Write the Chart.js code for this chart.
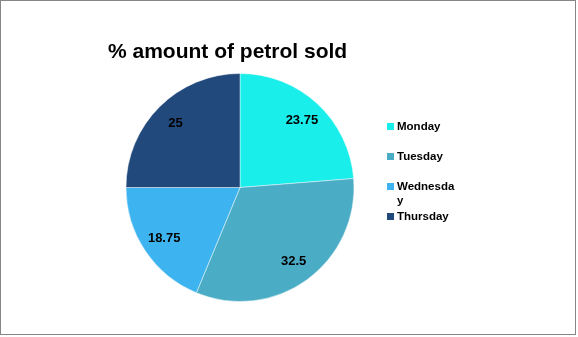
<!DOCTYPE html>
<html>
<head>
<meta charset="utf-8">
<script src="https://cdn.jsdelivr.net/npm/chart.js@4"></script>
<style>
  html, body { margin: 0; padding: 0; background: #fff; }
  #box {
    position: absolute; left: 0; top: 0;
    width: 574px; height: 333px;
    border: 1px solid #868686;
    background: #fff;
  }
</style>
</head>
<body>
<div id="box"><canvas id="petrol" width="574" height="333"></canvas></div>
<script>
const days = ['Monday', 'Tuesday', 'Wednesday', 'Thursday'];
const percentSold = [23.75, 32.5, 18.75, 25];
const sliceColors = ['#1AEEEA', '#4BACC6', '#3DB4F0', '#21497C'];
const chartTitle = '% amount of petrol sold';

// labels inside each slice, a bit out from the middle
const sliceLabels = {
  id: 'sliceLabels',
  afterDatasetsDraw(chart) {
    const ctx = chart.ctx;
    const meta = chart.getDatasetMeta(0);
    ctx.save();
    ctx.font = 'bold 13px "Liberation Sans", Arial, sans-serif';
    ctx.fillStyle = '#000';
    ctx.textAlign = 'center';
    ctx.textBaseline = 'middle';
    meta.data.forEach((arc, i) => {
      const mid = (arc.startAngle + arc.endAngle) / 2;
      const r = arc.outerRadius * 0.8;
      ctx.fillText(String(percentSold[i]), arc.x + Math.cos(mid) * r, arc.y + Math.sin(mid) * r);
    });
    ctx.restore();
  }
};

// title + legend on the right, legend text wraps when too wide
const titleAndLegend = {
  id: 'titleAndLegend',
  afterDraw(chart) {
    const ctx = chart.ctx;
    ctx.save();
    ctx.font = 'bold 21px "Liberation Sans", Arial, sans-serif';
    ctx.fillStyle = '#000';
    ctx.textBaseline = 'alphabetic';
    ctx.fillText(chartTitle, 107, 57);

    ctx.font = 'bold 11.5px "Liberation Sans", Arial, sans-serif';
    ctx.textBaseline = 'middle';
    const maxW = 60;
    days.forEach((d, i) => {
      const y = 126 + i * 30;
      ctx.fillStyle = sliceColors[i];
      ctx.fillRect(386, y - 4, 7, 7);
      ctx.fillStyle = '#000';
      let line = '';
      const lines = [];
      for (const ch of d) {
        if (ctx.measureText(line + ch).width > maxW) { lines.push(line); line = ch; }
        else line += ch;
      }
      lines.push(line);
      lines.forEach((t, j) => ctx.fillText(t, 396, y + j * 14));
    });
    ctx.restore();
  }
};

new Chart(document.getElementById('petrol'), {
  type: 'pie',
  data: {
    labels: days,
    datasets: [{
      data: percentSold,
      backgroundColor: sliceColors,
      borderColor: 'rgba(255,255,255,0.45)',
      borderWidth: 1,
      hoverOffset: 0
    }]
  },
  options: {
    responsive: false,
    animation: false,
    layout: { padding: { left: 124, right: 220, top: 72, bottom: 32 } },
    plugins: {
      legend: { display: false },
      tooltip: { enabled: false },
      title: { display: false }
    }
  },
  plugins: [sliceLabels, titleAndLegend]
});
</script>
</body>
</html>
